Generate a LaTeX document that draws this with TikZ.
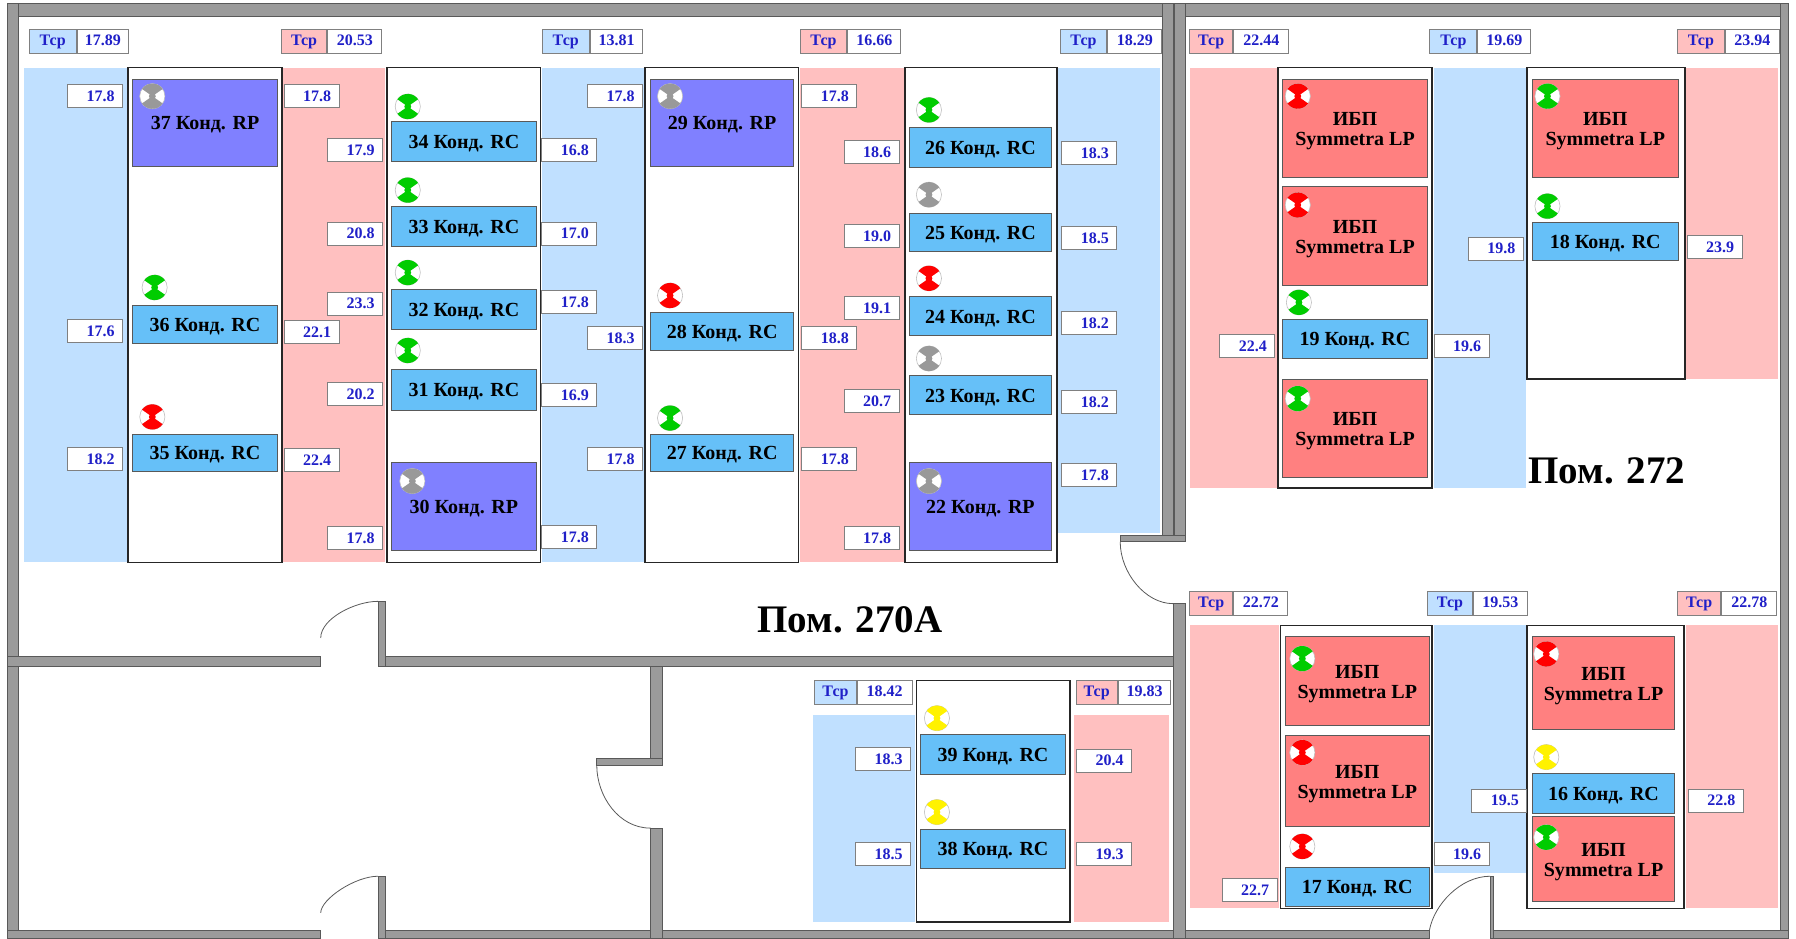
\documentclass[tikz,border=0pt]{standalone}
\usepackage{fontspec}
\setmainfont{Liberation Serif}
\definecolor{coldfloor}{RGB}{192,224,255}
\definecolor{hotfloor}{RGB}{255,192,192}
\definecolor{wallgray}{RGB}{155,155,155}
\definecolor{rcblue}{RGB}{102,192,248}
\definecolor{rpviolet}{RGB}{128,128,255}
\definecolor{upsred}{RGB}{255,128,128}
\definecolor{valblue}{RGB}{32,32,200}
\tikzset{
  wall/.style={fill=wallgray,draw=gray!70!black,line width=.3pt},
  rack/.style={fill=white,draw=black!85,line width=.8pt},
  rcunit/.style={fill=rcblue,draw=gray!70!black,line width=.5pt,font=\fontsize{10}{10}\selectfont\bfseries,align=center},
  rpunit/.style={rcunit,fill=rpviolet},
  upsunit/.style={rcunit,fill=upsred},
  valbox/.style={draw=gray,fill=white,line width=.5pt,text=valblue,font=\fontsize{8}{9}\selectfont\bfseries,minimum width=27.5pt,minimum height=11.5pt,inner sep=0pt,inner xsep=4pt,align=right,text width=19.5pt},
  tcell/.style={draw=gray,line width=.5pt,text=valblue,font=\fontsize{8}{9}\selectfont\bfseries,minimum height=12pt,inner sep=0pt,text height=5.5pt,text depth=1.5pt},
  avgcell/.style={tcell,fill=white},
  roomlabel/.style={font=\fontsize{19.5}{22}\selectfont\bfseries},
  doorline/.style={draw=gray!70!black,line width=.4pt},
  valve/.pic={
    \draw [gray!50,fill=white,line width=.3pt] (0,0) circle (11);
    \fill [#1] (0,0) -- (35:11) arc [start angle=35,end angle=145,radius=11] -- cycle;
    \fill [#1] (0,0) -- (215:11) arc [start angle=215,end angle=325,radius=11] -- cycle;
    \fill [#1] (0,0) circle (3);
  }
}
\begin{document}
\begin{tikzpicture}[x=0.5727pt,y=-0.5727pt]
\useasboundingbox (0,0) rectangle (1568,819);
% floor
\foreach \xa/\ya/\xb/\yb in {21/59/111/491,473/59/563/491,924/59/1013/465,1252/59/1332/426,710/624/799/805,1252/546/1332/762}
  \fill [coldfloor] (\xa,\ya) rectangle (\xb,\yb);
\foreach \xa/\ya/\xb/\yb in {247/59/336/491,698/59/790/491,1039/59/1115/426,1472/59/1552/331,938/624/1021/805,1039/546/1117/793,1472/546/1552/793}
  \fill [hotfloor] (\xa,\ya) rectangle (\xb,\yb);
% racks
\foreach \xa/\ya/\xb/\yb in {112/59/246/491,338/59/472/491,563/59/697/491,790/59/923/491,1116/59/1250/426,1333/59/1471/331,800/594/934/805,1118/546/1250/793,1333/546/1470/793}
  \draw [rack] (\xa,\ya) rectangle (\xb,\yb);
% RC units
\foreach \xa/\ya/\xb/\yb/\num in {116/267/242/300/36,116/379/242/412/35,342/106/468/141/34,342/180/468/215/33,342/253/468/288/32,342/323/468/358/31,568/273/693/306/28,568/379/693/412/27,794/111/918/146/26,794/186/918/220/25,794/259/918/293/24,794/328/918/362/23,1120/279/1246/313/19,1338/194/1465/227/18,804/641/930/676/39,804/724/930/758/38,1122/757/1248/791/17,1338/675/1462/710/16}
  \draw [rcunit] (\xa,\ya) rectangle node [yshift=-1pt] (rc\num) {\num{} Конд. RC} (\xb,\yb);
% RP units
\foreach \xa/\ya/\xb/\yb/\num in {116/69/242/145/37,568/69/693/145/29,342/404/468/481/30,794/404/918/481/22}
  \draw [rpunit] (\xa,\ya) rectangle node [yshift=-1pt] (rp\num) {\num{} Конд. RP} (\xb,\yb);
% UPS
\foreach \xa/\ya/\xb/\yb [count=\n] in {1120/69/1246/155,1120/163/1246/249,1120/331/1246/417,1338/69/1465/155,1122/556/1248/633,1122/642/1248/722,1338/556/1462/637,1338/713/1462/787}
  \draw [upsunit] (\xa,\ya) rectangle node [yshift=-1.5pt] (ups\n) {ИБП\\Symmetra LP} (\xb,\yb);
% valves
\foreach \px/\py/\col in {133/84/gray!80,135/251/green!80!black,133/364/red,356/93/green!80!black,356/166/green!80!black,356/238/green!80!black,356/306/green!80!black,360/420/gray!80,585/84/gray!80,585/258/red,585/365/green!80!black,811/96/green!80!black,811/170/gray!80,811/243/red,811/313/gray!80,811/420/gray!80,1133/84/red,1133/179/red,1134/264/green!80!black,1133/348/green!80!black,1351/84/green!80!black,1351/180/green!80!black,818/627/yellow,818/709/yellow,1137/575/green!80!black,1137/657/red,1137/739/red,1350/571/red,1350/661/yellow,1350/731/green!80!black}
  \pic at (\px,\py) {valve=\col};
% sensors
\foreach \px/\py/\val [count=\n] in {83/84/17.8,83/289/17.6,83/401/18.2,272/84/17.8,272/290/22.1,272/402/22.4,310/131/17.9,310/204/20.8,310/265/23.3,310/344/20.2,310/470/17.8,497/131/16.8,497/204/17.0,497/264/17.8,497/345/16.9,497/469/17.8,537/84/17.8,537/295/18.3,537/401/17.8,724/84/17.8,724/295/18.8,724/401/17.8,761/133/18.6,761/206/19.0,761/269/19.1,761/350/20.7,761/470/17.8,951/134/18.3,951/208/18.5,951/282/18.2,951/351/18.2,951/415/17.8,1089/302/22.4,1276/302/19.6,1306/217/19.8,1497/216/23.9,771/663/18.3,771/746/18.5,964/664/20.4,964/746/19.3,1091/777/22.7,1276/746/19.6,1309/699/19.5,1498/699/22.8}
  \node [valbox] (val\n) at (\px,\py) {\val};
% averages
\foreach \px/\py/\floor/\tw/\vw/\val [count=\n] in {25/36/coldfloor/41/45/17.89,245/36/hotfloor/40/47/20.53,473/36/coldfloor/41/46/13.81,698/36/hotfloor/41/46/16.66,925/36/coldfloor/41/47/18.29,1038/36/hotfloor/38/48/22.44,1248/36/coldfloor/41/46/19.69,1464/36/hotfloor/41/47/23.94,1038/527/hotfloor/38/47/22.72,1246/527/coldfloor/39/47/19.53,1464/527/hotfloor/38/48/22.78,711/605/coldfloor/36/48/18.42,939/605/hotfloor/36/46/19.83}{
  \node [tcell,fill=\floor,anchor=west,minimum width=\tw*0.5727pt] (tcp\n) at (\px,\py) {Тср};
  \node [avgcell,anchor=west,minimum width=\vw*0.5727pt] (avg\n) at (tcp\n.east) {\val};
}
% walls
\draw [wall] (6,3) rectangle (1561,14);
\draw [wall] (6,3) rectangle (16,819);
\draw [wall] (1554,3) rectangle (1561,819);
\draw [wall] (6,812) rectangle (280,819);
\draw [wall] (336,812) rectangle (1248,819);
\draw [wall] (1304,812) rectangle (1561,819);
\draw [wall] (1015,3) rectangle (1035,472);
\draw [gray!70!black,line width=.8pt] (1025,3) -- (1025,472);
\draw [wall] (978,467) rectangle (1035,473);
\draw [wall] (1024,527) rectangle (1035,819);
\draw [wall] (6,573) rectangle (280,582);
\draw [wall] (330,573) rectangle (1024,582);
\draw [wall] (330,525) rectangle (336,582);
\draw [wall] (568,582) rectangle (578,668);
\draw [wall] (521,662) rectangle (578,668);
\draw [wall] (568,723) rectangle (578,819);
\draw [wall] (330,765) rectangle (336,819);
\draw [wall] (1301,765) rectangle (1304,819);
% doors
\draw [doorline] (280,557) .. controls (280,540) and (310,525) .. (330,525);
\draw [doorline] (280,797) .. controls (280,785) and (310,765) .. (330,765);
\draw [doorline] (521,668) .. controls (521,695) and (540,723) .. (568,723);
\draw [doorline] (978,473) .. controls (978,500) and (1000,527) .. (1024,527);
\draw [doorline] (1248,812) .. controls (1252,790) and (1275,765) .. (1301,765);
% rooms
\node [roomlabel] (room270a) at (742,541) {Пом. 270А};
\node [roomlabel] (room272) at (1403,411) {Пом. 272};
\end{tikzpicture}
\end{document}
